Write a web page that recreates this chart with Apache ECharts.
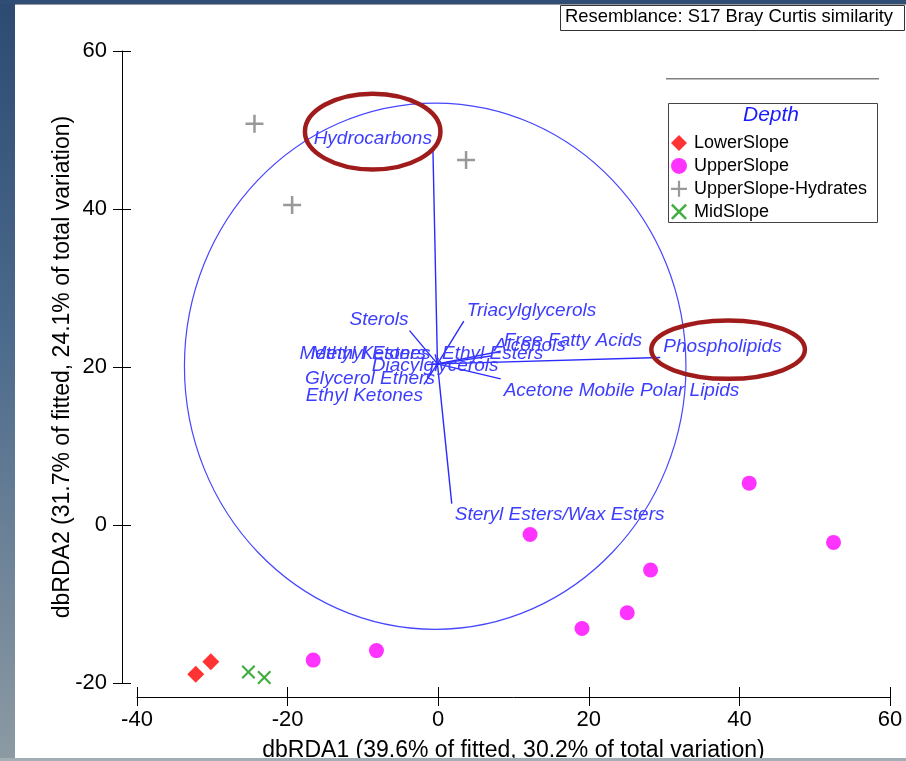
<!DOCTYPE html>
<html>
<head>
<meta charset="utf-8">
<script src="https://cdn.jsdelivr.net/npm/echarts@6/dist/echarts.min.js"></script>
<style>
  html, body { margin: 0; padding: 0; background: #ffffff; }
  #chart { width: 906px; height: 761px; }
</style>
</head>
<body>
<div id="chart"></div>
<script>
// ---- Sample scores on the first two dbRDA axes, per depth group ----
const groupNames = ['LowerSlope', 'UpperSlope', 'UpperSlope-Hydrates', 'MidSlope'];
const lowerSlope = [[-32.2, -18.9], [-30.2, -17.3]];
const upperSlope = [[-16.6, -17.1], [-8.2, -15.9], [12.2, -1.2], [19.1, -13.1],
                    [25.1, -11.1], [28.2, -5.7], [41.3, 5.3], [52.5, -2.2]];
const upperSlopeHydrates = [[-24.4, 50.8], [-19.4, 40.5], [3.7, 46.2]];
const midSlope = [[-25.2, -18.6], [-23.1, -19.3]];

// ---- Predictor vectors (lipid classes) ----
const vectorOrigin = [-0.1, 20.4];
const vectorNames = ['Hydrocarbons', 'Phospholipids', 'Steryl Esters/Wax Esters', 'Triacylglycerols',
  'Sterols', 'Free Fatty Acids', 'Alcohols', 'Ethyl Esters', 'Acetone Mobile Polar Lipids',
  'Methyl Ketones', 'Methyl Esters', 'Diacylglycerols', 'Glycerol Ethers', 'Ethyl Ketones'];
const vectorTipX = [-0.7, 29.5, 1.8, 3.4, -3.8, 8.3, 7.0, 0.1, 8.3, -0.9, -1.5, -0.4, -0.3, -1.9];
const vectorTipY = [47.6, 21.2, 2.7, 25.8, 24.6, 22.0, 21.4, 20.3, 18.5, 20.3, 20.3, 21.6, 20.0, 17.8];

// Unit circle of the vector overlay
const circleCenter = [-0.4, 20.1];
const circleRadius = 33.3;

// Highlight rings: centre x, centre y, radius x, radius y (axis units)
const highlightRings = [[-8.7, 49.8, 9.0, 4.8], [38.5, 22.2, 10.2, 3.7]];

// Axis ranges and ticks
const xRange = [-40, 60], xStep = 20;
const yRange = [-20, 60], yStep = 20;

const xTitle = 'dbRDA1 (39.6% of fitted, 30.2% of total variation)';
const yTitle = 'dbRDA2 (31.7% of fitted, 24.1% of total variation)';
const resemblanceText = 'Resemblance: S17 Bray Curtis similarity';
const legendTitle = 'Depth';

// ---- Styling ----
const FONT = '"Liberation Sans", Arial, sans-serif';
const vecLine = '#2b2bff';
const vecText = '#3d3dff';
// label corner placed at each vector tip: [horizontal align, vertical align]
const labelAnchor = {
  'Hydrocarbons': ['right', 'bottom'],
  'Phospholipids': ['left', 'bottom'],
  'Steryl Esters/Wax Esters': ['left', 'top'],
  'Triacylglycerols': ['left', 'bottom'],
  'Sterols': ['right', 'bottom'],
  'Free Fatty Acids': ['left', 'bottom'],
  'Alcohols': ['left', 'bottom'],
  'Ethyl Esters': ['left', 'bottom'],
  'Acetone Mobile Polar Lipids': ['left', 'top'],
  'Methyl Ketones': ['right', 'bottom'],
  'Methyl Esters': ['right', 'bottom'],
  'Diacylglycerols': ['center', 'top'],
  'Glycerol Ethers': ['right', 'top'],
  'Ethyl Ketones': ['right', 'top']
};

const plusPath = 'path://M4.3,0H5.7V4.3H10V5.7H5.7V10H4.3V5.7H0V4.3H4.3Z';
const crossPath = 'path://M0,1.1L1.1,0L5,3.9L8.9,0L10,1.1L6.1,5L10,8.9L8.9,10L5,6.1L1.1,10L0,8.9L3.9,5Z';

const chart = echarts.init(document.getElementById('chart'), null, { renderer: 'canvas' });

function makeAxisX(extra) {
  return Object.assign({
    type: 'value', min: xRange[0], max: xRange[1], interval: xStep,
    position: 'bottom', offset: 14,
    splitLine: { show: false }
  }, extra);
}
function makeAxisY(extra) {
  return Object.assign({
    type: 'value', min: yRange[0], max: yRange[1], interval: yStep,
    position: 'left', offset: 15,
    splitLine: { show: false }
  }, extra);
}

const option = {
  animation: false,
  backgroundColor: '#ffffff',
  grid: { left: 137, right: 16, top: 51, bottom: 78, containLabel: false, outerBoundsMode: 'none' },
  xAxis: [
    makeAxisX({
      axisLine: { show: true, onZero: false, lineStyle: { color: '#000', width: 1 } },
      axisTick: { show: true, length: 9, lineStyle: { color: '#000' } },
      axisLabel: { fontSize: 22, color: '#000', margin: 12, fontFamily: FONT },
      name: xTitle, nameLocation: 'middle', nameGap: 42, nameMoveOverlap: false,
      nameTextStyle: { fontSize: 23, color: '#000', fontFamily: FONT }
    }),
    makeAxisX({
      axisLine: { show: false, onZero: false },
      axisTick: { show: true, inside: true, length: 10, lineStyle: { color: '#000' } },
      axisLabel: { show: false }
    })
  ],
  yAxis: [
    makeAxisY({
      axisLine: { show: true, onZero: false, lineStyle: { color: '#000', width: 1 } },
      axisTick: { show: true, length: 9, lineStyle: { color: '#000' } },
      axisLabel: { fontSize: 22, color: '#000', margin: 15, fontFamily: FONT },
      name: yTitle, nameLocation: 'middle', nameGap: 48, nameRotate: 90, nameMoveOverlap: false,
      nameTextStyle: { fontSize: 23, color: '#000', fontFamily: FONT }
    }),
    makeAxisY({
      axisLine: { show: false, onZero: false },
      axisTick: { show: true, inside: true, length: 9, lineStyle: { color: '#000' } },
      axisLabel: { show: false }
    })
  ],
  legend: {
    data: groupNames,
    orient: 'vertical',
    left: 671, top: 134, z: 120, padding: 0,
    itemWidth: 16, itemHeight: 16, itemGap: 4.9,
    textStyle: { fontSize: 18, lineHeight: 16, color: '#000', fontFamily: FONT, padding: [0, 0, 0, 2] },
    selectedMode: false
  },
  graphic: [
    // slide frame edges
    { type: 'rect', left: 0, top: 0, z: 100, shape: { width: 15, height: 761 },
      style: { fill: new echarts.graphic.LinearGradient(0, 0, 0, 1, [
        { offset: 0, color: '#2d4a72' }, { offset: 0.45, color: '#4d6b8c' }, { offset: 1, color: '#8c9aa3' }]) } },
    { type: 'rect', left: 0, top: 0, z: 100, shape: { width: 906, height: 4 }, style: { fill: '#2f4d75' } },
    { type: 'rect', left: 15, top: 4, z: 100, shape: { width: 891, height: 1 }, style: { fill: '#9a9a9a' } },
    { type: 'rect', left: 0, top: 758, z: 100, shape: { width: 906, height: 3 }, style: { fill: '#a3adb4' } },
    // resemblance box
    { type: 'rect', left: 560, top: 5, z: 50, shape: { width: 344, height: 25 },
      style: { fill: '#fff', stroke: '#333', lineWidth: 1 } },
    { type: 'text', left: 565, top: 8, z: 51,
      style: { text: resemblanceText, font: '18.4px ' + FONT, fill: '#000' } },
    // separator rule above the legend
    { type: 'rect', left: 666, top: 78, z: 50, shape: { width: 213, height: 1.5 }, style: { fill: '#808080' } },
    // legend frame and title
    { type: 'rect', left: 668, top: 103, z: 1, shape: { width: 209, height: 119 },
      style: { fill: '#fff', stroke: '#444', lineWidth: 1 } },
    { type: 'text', left: 743, top: 105, z: 51,
      style: { text: legendTitle, font: 'italic 21px ' + FONT, fill: '#1a1aff' } }
  ],
  series: [
    {
      name: 'circle', type: 'custom', silent: true, z: 1,
      data: [circleCenter],
      renderItem: function (params, api) {
        const c = api.coord([api.value(0), api.value(1)]);
        const s = api.size([circleRadius, circleRadius]);
        return { type: 'ellipse', shape: { cx: c[0], cy: c[1], rx: s[0], ry: s[1] },
          style: { fill: 'none', stroke: '#4646ff', lineWidth: 1.2 } };
      }
    },
    {
      name: 'vectors', type: 'custom', silent: true, z: 2,
      data: vectorTipX.map((x, i) => [x, vectorTipY[i]]),
      renderItem: function (params, api) {
        const i = params.dataIndex;
        const o = api.coord(vectorOrigin);
        const t = api.coord([api.value(0), api.value(1)]);
        const nm = vectorNames[i];
        const anc = labelAnchor[nm];
        const dx = anc[0] === 'left' ? 3 : (anc[0] === 'right' ? -1 : 0);
        const dy = anc[1] === 'top' ? 2 : -1;
        return {
          type: 'group',
          children: [
            { type: 'line', shape: { x1: o[0], y1: o[1], x2: t[0], y2: t[1] },
              style: { stroke: vecLine, lineWidth: 1.4 } },
            { type: 'text', x: t[0] + dx, y: t[1] + dy,
              style: { text: nm, fill: vecText, font: 'italic 19px ' + FONT,
                align: anc[0], verticalAlign: anc[1] } }
          ]
        };
      }
    },
    {
      name: 'rings', type: 'custom', silent: true, z: 5,
      data: highlightRings,
      renderItem: function (params, api) {
        const c = api.coord([api.value(0), api.value(1)]);
        const s = api.size([api.value(2), api.value(3)]);
        return { type: 'ellipse', shape: { cx: c[0], cy: c[1], rx: s[0], ry: s[1] },
          style: { fill: 'none', stroke: '#a01c1c', lineWidth: 4.5 } };
      }
    },
    { name: 'LowerSlope', type: 'scatter', data: lowerSlope, symbol: 'diamond', symbolSize: 17,
      itemStyle: { color: '#ff0000' }, z: 10 },
    { name: 'UpperSlope', type: 'scatter', data: upperSlope, symbol: 'circle', symbolSize: 15,
      itemStyle: { color: '#ff00ff' }, z: 10 },
    { name: 'UpperSlope-Hydrates', type: 'scatter', data: upperSlopeHydrates, symbol: plusPath, symbolSize: 18,
      itemStyle: { color: '#808080' }, z: 10 },
    { name: 'MidSlope', type: 'scatter', data: midSlope, symbol: crossPath, symbolSize: 14,
      itemStyle: { color: '#109a10' }, z: 10 }
  ]
};

chart.setOption(option);
</script>
</body>
</html>
